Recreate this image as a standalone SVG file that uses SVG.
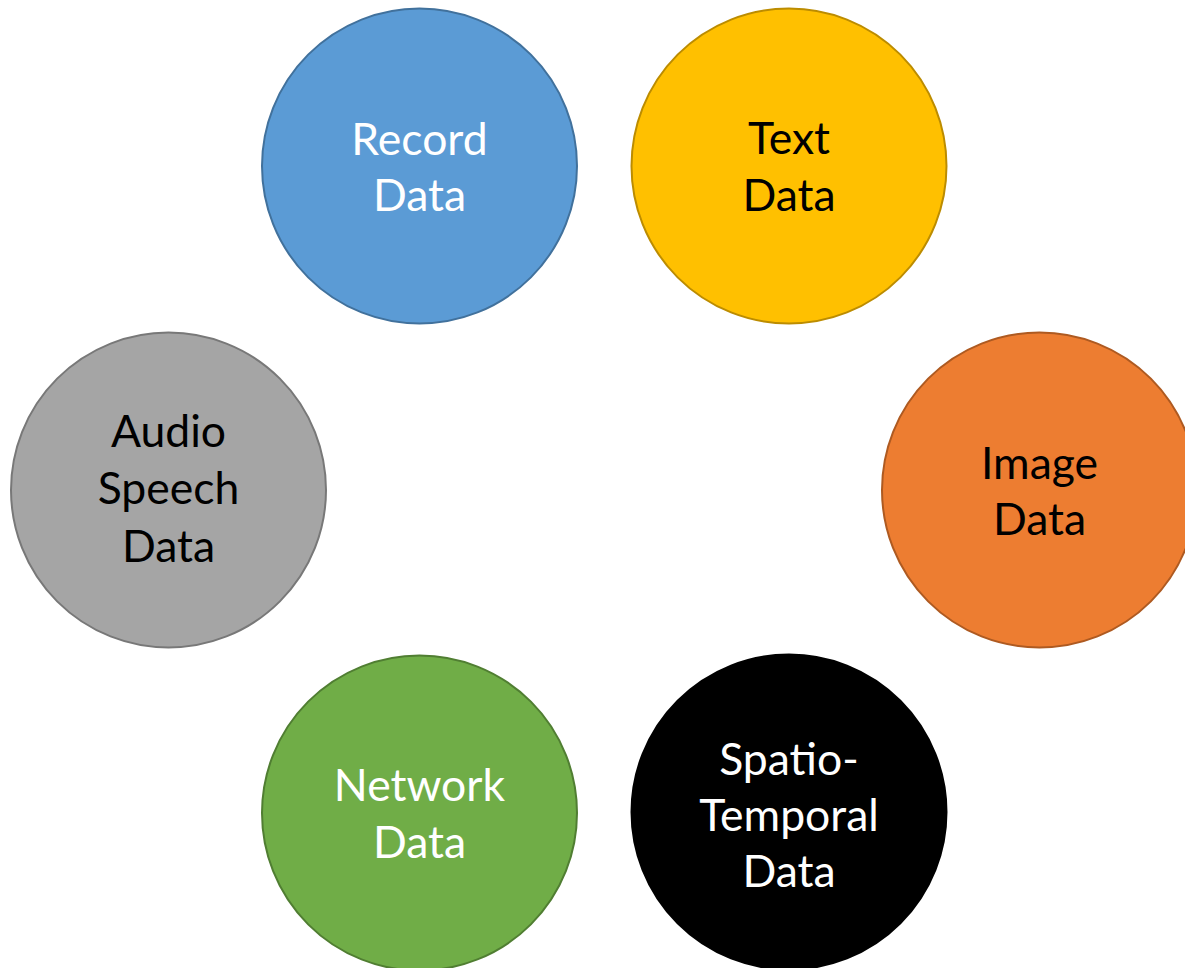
<svg xmlns="http://www.w3.org/2000/svg" width="1185" height="968" viewBox="0 0 1185 968">
  <style>
    .node { stroke-width: 2; }
    .lbl { font-family: Lato, "Open Sans", "Liberation Sans", sans-serif; font-size: 44.5px; text-anchor: middle; }
    .light { fill: #FFFFFF; }
    .dark { fill: #000000; }
  </style>
  <rect width="1185" height="968" fill="#FFFFFF"/>
  <g id="connectors"/>
  <g id="record">
    <circle class="node" cx="419.5" cy="166" r="157.5" fill="#5B9BD5" stroke="#41719C"/>
    <text class="lbl light" x="419.5" y="155">Record</text>
    <text class="lbl light" x="419.5" y="211">Data</text>
  </g>
  <g id="text-data">
    <circle class="node" cx="789" cy="166" r="157.5" fill="#FFC000" stroke="#BC8C00"/>
    <text class="lbl dark" x="789" y="154">Text</text>
    <text class="lbl dark" x="789" y="211">Data</text>
  </g>
  <g id="image">
    <circle class="node" cx="1039.5" cy="490" r="157.5" fill="#ED7D31" stroke="#AE5A21"/>
    <text class="lbl dark" x="1039.5" y="479">Image</text>
    <text class="lbl dark" x="1039.5" y="535">Data</text>
  </g>
  <g id="audio">
    <circle class="node" cx="168.5" cy="490" r="157.5" fill="#A5A5A5" stroke="#787878"/>
    <text class="lbl dark" x="168.5" y="447">Audio</text>
    <text class="lbl dark" x="168.5" y="504">Speech</text>
    <text class="lbl dark" x="168.5" y="562">Data</text>
  </g>
  <g id="network">
    <circle class="node" cx="419.5" cy="813" r="157.5" fill="#70AD47" stroke="#507E32"/>
    <text class="lbl light" x="419.5" y="801">Network</text>
    <text class="lbl light" x="419.5" y="858">Data</text>
  </g>
  <g id="spatio-temporal">
    <circle class="node" cx="789" cy="812" r="157.5" fill="#000000" stroke="#000000"/>
    <text class="lbl light" x="789" y="775">Spatio-</text>
    <text class="lbl light" x="789" y="831">Temporal</text>
    <text class="lbl light" x="789" y="887">Data</text>
  </g>
</svg>
